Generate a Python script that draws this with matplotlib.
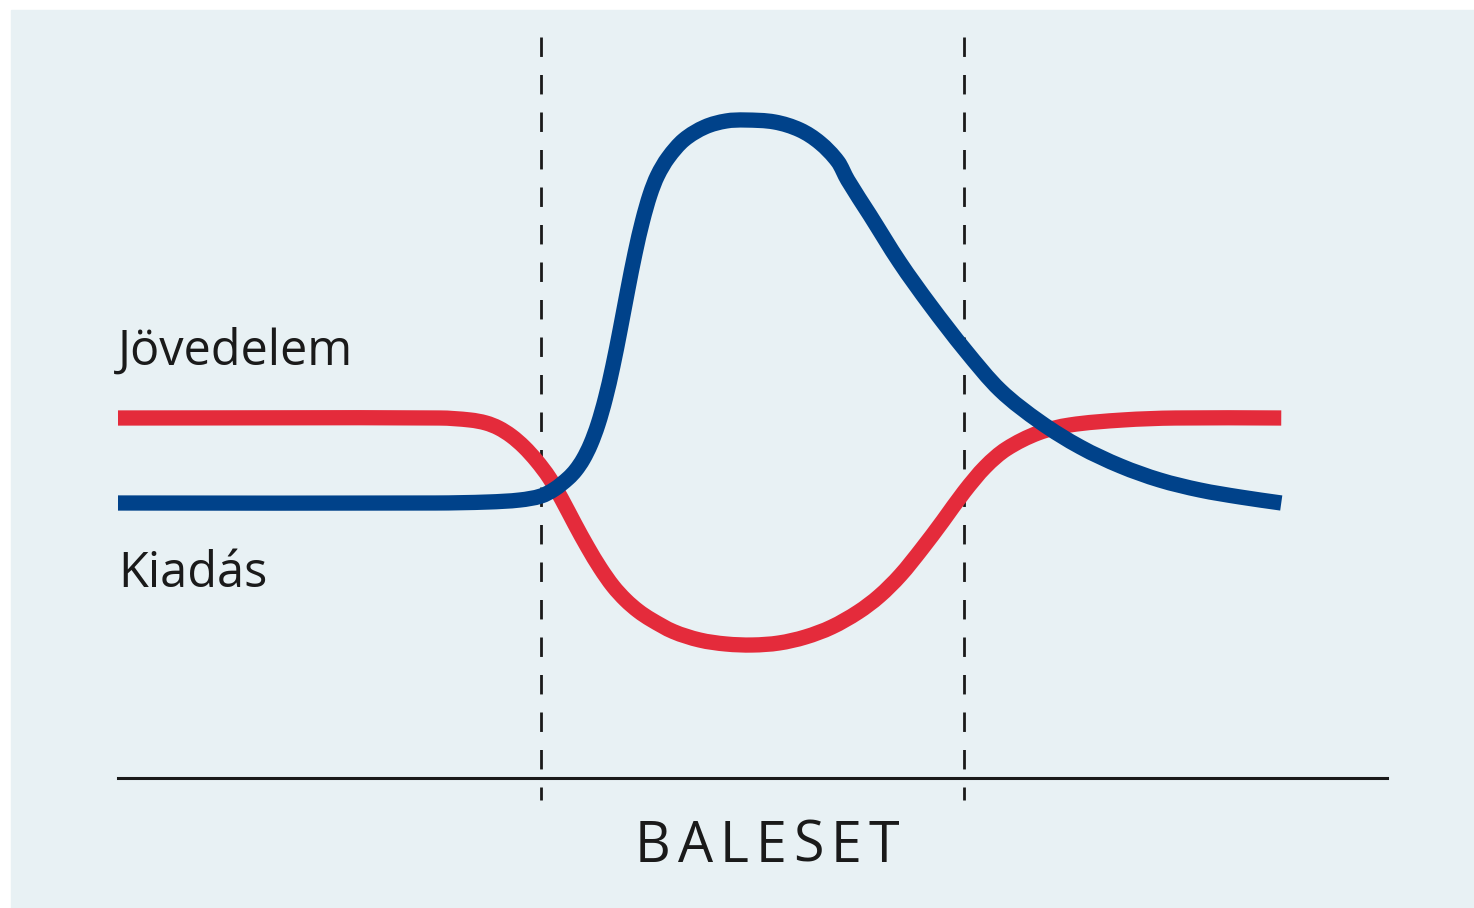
import numpy as np
import matplotlib
matplotlib.use('Agg')
import matplotlib.pyplot as plt
from matplotlib.patches import Rectangle, PathPatch
from matplotlib.path import Path

# time axis (arbitrary units), accident happens between 4 and 8
accident = [4.0, 8.0]

income_t = [0.0, 3.04, 3.33, 3.48, 3.60, 3.72, 3.84, 3.96, 4.08, 4.20, 4.32,
            4.44, 4.56, 4.68, 4.80, 4.92, 5.04, 5.25, 5.50, 5.75, 6.0, 6.25,
            6.5, 6.75, 7.0, 7.2, 7.4, 7.6, 7.8, 8.0, 8.2, 8.4, 8.7, 9.0, 9.5,
            10.0, 11.0]
income_y = [3.60, 3.60, 3.58, 3.55, 3.50, 3.42, 3.31, 3.17, 3.00, 2.78, 2.54,
            2.31, 2.10, 1.92, 1.78, 1.67, 1.585, 1.465, 1.38, 1.34, 1.33, 1.35,
            1.41, 1.51, 1.66, 1.82, 2.03, 2.29, 2.57, 2.86, 3.11, 3.29, 3.45,
            3.53, 3.58, 3.60, 3.60]

expense_t = [0.0, 3.0, 3.5, 3.8, 4.00, 4.13, 4.26, 4.33, 4.40, 4.47, 4.54, 4.61,
             4.68, 4.75, 4.82, 4.89, 4.96, 5.03, 5.10, 5.20, 5.35, 5.55, 5.75,
             5.93, 6.21, 6.45, 6.64, 6.81, 6.90, 7.11, 7.39, 7.68, 8.01, 8.34,
             8.72, 9.10, 9.48, 9.85, 10.23, 10.61, 11.0]
expense_y = [2.75, 2.75, 2.76, 2.78, 2.82, 2.89, 3.00, 3.08, 3.19, 3.34, 3.54, 3.80,
             4.12, 4.49, 4.88, 5.25, 5.57, 5.83, 6.02, 6.20, 6.38, 6.51, 6.57,
             6.58, 6.56, 6.48, 6.35, 6.16, 5.98, 5.63, 5.16, 4.73, 4.28, 3.88,
             3.56, 3.31, 3.12, 2.98, 2.88, 2.81, 2.75]

BG = '#e8f1f4'
RED = '#e42b3b'
BLUE = '#00428a'
INK = '#1a1a1a'
FONT = ['Open Sans', 'DejaVu Sans']


def smooth_path(xs, ys):
    # cubic hermite segments through the read points, drawn as a bezier path
    x = np.asarray(xs, float)
    y = np.asarray(ys, float)
    n = len(x)
    m = np.zeros(n)
    for i in range(n):
        a = max(i - 1, 0)
        b = min(i + 1, n - 1)
        m[i] = (y[b] - y[a]) / (x[b] - x[a])
    verts = [(x[0], y[0])]
    codes = [Path.MOVETO]
    for i in range(n - 1):
        dx = (x[i + 1] - x[i]) / 3
        verts += [(x[i] + dx, y[i] + dx * m[i]),
                  (x[i + 1] - dx, y[i + 1] - dx * m[i + 1]),
                  (x[i + 1], y[i + 1])]
        codes += [Path.CURVE4] * 3
    return Path(verts, codes)


W, H = 1474, 908
fig = plt.figure(figsize=(W / 100, H / 100), dpi=100)
fig.patch.set_facecolor('white')
fig.patches.append(Rectangle((11 / W, -0.01), 1, (H - 10) / H + 0.01,
                             transform=fig.transFigure, color=BG, zorder=-5))

ax = fig.add_axes([118 / W, (H - 778) / H, 1269 / W, 700 / H])
ax.set_facecolor('none')
ax.set_xlim(0, 12)
ax.set_ylim(0, 7)
for s in ['top', 'right', 'left']:
    ax.spines[s].set_visible(False)
ax.spines['bottom'].set_linewidth(2.2)
ax.spines['bottom'].set_color(INK)
ax.set_xticks([])
ax.set_yticks([])

# accident period markers
plt.rcParams['lines.scale_dashes'] = False
for xa in accident:
    ax.plot([xa, xa], [7.41, -0.22], color=INK, lw=2.0, dashes=(14, 13),
            clip_on=False, dash_capstyle='butt')

for xs, ys, col in [(income_t, income_y, RED), (expense_t, expense_y, BLUE)]:
    ax.add_patch(PathPatch(smooth_path(xs, ys), facecolor='none', edgecolor=col,
                           lw=11, capstyle='butt', joinstyle='round',
                           clip_on=False, zorder=3))

ax.text(0, 4.13, 'Jövedelem', family=FONT, fontsize=35, color=INK,
        ha='left', va='baseline')
ax.text(0, 1.91, 'Kiadás', family=FONT, fontsize=35, color=INK,
        ha='left', va='baseline')

# letter-spaced axis caption
word = 'BALESET'
gap = 7
renderer = fig.canvas.get_renderer()
widths = []
for ch in word:
    tmp = ax.text(0, 0, ch, family=FONT, fontsize=40)
    widths.append(tmp.get_window_extent(renderer).width)
    tmp.remove()
total = sum(widths) + gap * (len(word) - 1)
off = -total / 2
for ch, w in zip(word, widths):
    ax.annotate(ch, xy=(6.14, -0.84), xytext=(off, 0), textcoords='offset pixels',
                family=FONT, fontsize=40, color=INK, ha='left', va='baseline',
                annotation_clip=False)
    off += w + gap

fig.savefig('out.png', dpi=100, facecolor=fig.get_facecolor())
